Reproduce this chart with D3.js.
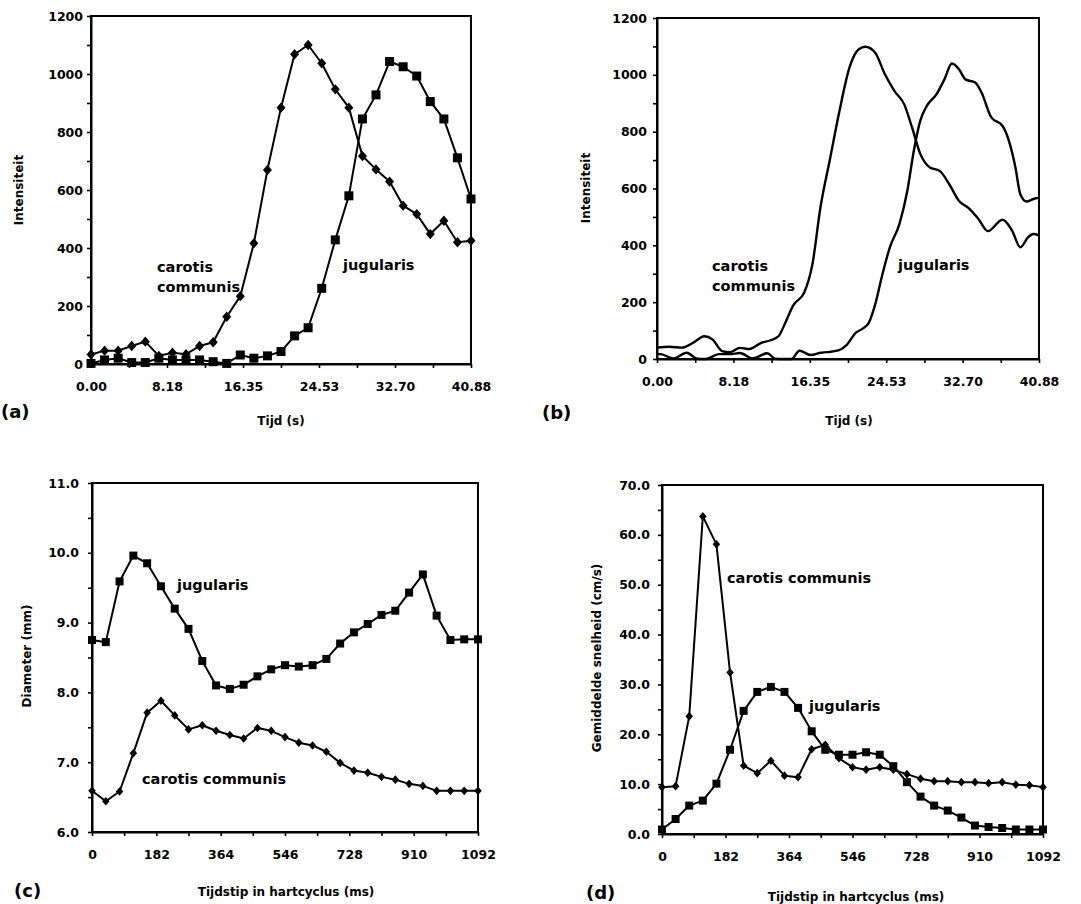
<!DOCTYPE html>
<html>
<head>
<meta charset="utf-8">
<script src="https://cdn.jsdelivr.net/npm/d3@7"></script>
<style>
  html, body { margin: 0; padding: 0; background: #fff; }
  svg { display: block; }
  text { font-family: "DejaVu Sans", sans-serif; font-weight: bold; fill: #000; }
</style>
</head>
<body>
<svg id="chart" width="1081" height="904"></svg>
<script>
// ---------- (a) intensity over time, sampled ----------
const timeA = [0, 1.46, 2.92, 4.38, 5.84, 7.30, 8.76, 10.22, 11.68, 13.14, 14.60, 16.06, 17.52,
  18.98, 20.44, 21.90, 23.36, 24.82, 26.28, 27.74, 29.20, 30.66, 32.12, 33.58, 35.04, 36.50,
  37.96, 39.42, 40.88];
const carotisA = [33, 46, 46, 62, 77, 28, 39, 34, 62, 75, 163, 234, 416, 669, 884, 1068, 1100,
  1037, 947, 884, 717, 671, 629, 546, 517, 448, 494, 420, 425];
const jugularisA = [2, 14, 20, 5, 5, 20, 14, 14, 14, 8, 2, 31, 20, 28, 43, 97, 125, 261, 428,
  580, 845, 928, 1043, 1025, 993, 905, 845, 711, 569];

// ---------- (b) intensity over time, smoothed trace ----------
const timeBCarotis = [0, 1.28, 2.66, 3.86, 5.07, 5.93, 6.97, 7.83, 8.87, 9.9, 11.1, 12.14, 13.0,
  13.7, 14.56, 15.77, 16.63, 17.49, 18.52, 19.56, 20.6, 21.6, 22.3, 23.35, 24.39, 25.42, 26.46,
  27.3, 28.2, 29.2, 30.25, 31.28, 32.3, 33.35, 34.4, 35.4, 36.98, 38.0, 38.88, 39.7, 40.26, 40.88];
const carotisB = [40, 43, 40, 57, 80, 69, 28, 24, 39, 35, 56, 66, 80, 125, 188, 235, 333, 533,
  705, 878, 1026, 1090, 1099, 1078, 1002, 943, 896, 814, 720, 674, 662, 615, 557, 531, 493, 450,
  490, 452, 393, 428, 440, 435];
const timeBJugularis = [0, 0.41, 1.79, 3.17, 4.3, 5.2, 6.62, 7.8, 8.87, 10.24, 11.8, 12.66, 13.5,
  14.39, 15.25, 16.46, 17.5, 18.2, 19.4, 20.25, 21.29, 21.97, 22.66, 23.35, 24.04, 24.91, 25.93,
  26.79, 27.48, 28.17, 28.86, 29.9, 30.76, 31.56, 32.32, 33.01, 34.05, 34.74, 35.78, 36.98,
  37.67, 38.36, 38.88, 39.57, 40.26, 40.88];
const jugularisB = [18, 17, 2, 22, 1, 0, 17, 17, 21, 2, 20, 1, 0, 0, 29, 14, 22, 24, 30, 48, 93,
  106, 127, 192, 287, 392, 474, 592, 732, 838, 890, 931, 984, 1040, 1020, 984, 973, 937, 850,
  820, 767, 674, 580, 554, 563, 568];

// ---------- (c) diameter and (d) mean velocity over one heart cycle ----------
const timeCD = [0, 39, 78, 117, 156, 195, 234, 273, 312, 351, 390, 429, 468, 507, 546, 585, 624,
  663, 702, 741, 780, 819, 858, 897, 936, 975, 1014, 1053, 1092];
const jugularisC = [8.75, 8.72, 9.59, 9.96, 9.85, 9.52, 9.20, 8.91, 8.45, 8.10, 8.05, 8.11, 8.23,
  8.33, 8.39, 8.37, 8.39, 8.48, 8.70, 8.86, 8.98, 9.11, 9.17, 9.43, 9.69, 9.10, 8.75, 8.76, 8.76];
const carotisC = [6.59, 6.44, 6.58, 7.13, 7.71, 7.88, 7.67, 7.47, 7.53, 7.45, 7.39, 7.34, 7.49,
  7.45, 7.36, 7.28, 7.24, 7.15, 6.99, 6.88, 6.85, 6.79, 6.75, 6.69, 6.66, 6.59, 6.59, 6.59, 6.59];
const carotisD = [9.4, 9.6, 23.6, 63.7, 58.1, 32.4, 13.7, 12.2, 14.7, 11.7, 11.4, 17.0, 17.9,
  15.2, 13.4, 12.9, 13.4, 12.9, 12.0, 11.1, 10.6, 10.6, 10.4, 10.4, 10.2, 10.4, 9.9, 9.8, 9.4];
const jugularisD = [0.9, 3.0, 5.7, 6.7, 10.1, 16.9, 24.7, 28.5, 29.5, 28.5, 25.3, 20.6, 16.9,
  15.9, 15.9, 16.4, 15.9, 13.6, 10.4, 7.5, 5.7, 4.7, 3.3, 1.7, 1.4, 1.2, 0.9, 0.9, 0.9];

// ---------- axis ticks ----------
const xTicksAB = [0, 4.088, 8.176, 12.264, 16.352, 20.44, 24.528, 28.616, 32.704, 36.792, 40.88];
const xLabelsAB = ["0.00", "", "8.18", "", "16.35", "", "24.53", "", "32.70", "", "40.88"];
const yTicksAB = [0, 100, 200, 300, 400, 500, 600, 700, 800, 900, 1000, 1100, 1200];
const yLabelsAB = ["0", "", "200", "", "400", "", "600", "", "800", "", "1000", "", "1200"];
const xTicksCD = [0, 91, 182, 273, 364, 455, 546, 637, 728, 819, 910, 1001, 1092];
const xLabelsCD = ["0", "", "182", "", "364", "", "546", "", "728", "", "910", "", "1092"];
const yTicksC = [6.0, 6.5, 7.0, 7.5, 8.0, 8.5, 9.0, 9.5, 10.0, 10.5, 11.0];
const yLabelsC = ["6.0", "", "7.0", "", "8.0", "", "9.0", "", "10.0", "", "11.0"];
const yTicksD = [0, 5, 10, 15, 20, 25, 30, 35, 40, 45, 50, 55, 60, 65, 70];
const yLabelsD = ["0.0", "", "10.0", "", "20.0", "", "30.0", "", "40.0", "", "50.0", "", "60.0", "", "70.0"];

const svg = d3.select("#chart");

// Filled diamond marker (rhombus slightly taller than wide)
const diamondShape = {
  draw(ctx, size) {
    const r = Math.sqrt(size) / 2;
    ctx.moveTo(0, -r * 1.15);
    ctx.lineTo(r, 0);
    ctx.lineTo(0, r * 1.15);
    ctx.lineTo(-r, 0);
    ctx.closePath();
  }
};

function drawPanel(cfg) {
  const g = svg.append("g");
  const x = d3.scaleLinear().domain(cfg.xDomain).range([cfg.left, cfg.right]);
  const y = d3.scaleLinear().domain(cfg.yDomain).range([cfg.bottom, cfg.top]);

  // frame
  g.append("rect")
    .attr("x", cfg.left).attr("y", cfg.top)
    .attr("width", cfg.right - cfg.left).attr("height", cfg.bottom - cfg.top)
    .attr("fill", "none").attr("stroke", "#000").attr("stroke-width", 2);

  // x axis
  const xAxis = d3.axisBottom(x)
    .tickValues(cfg.xTicks)
    .tickFormat((d, i) => cfg.xLabels[i])
    .tickSize(4).tickPadding(14).tickSizeOuter(0);
  const gx = g.append("g").attr("transform", `translate(0,${cfg.bottom})`).call(xAxis);
  gx.select(".domain").attr("stroke-width", 2);
  gx.selectAll(".tick line").attr("stroke-width", 1.6);
  gx.selectAll("text").attr("font-size", 12.5).attr("font-family", "DejaVu Sans").attr("font-weight", "bold");

  // y axis
  const yAxis = d3.axisLeft(y)
    .tickValues(cfg.yTicks)
    .tickFormat((d, i) => cfg.yLabels[i])
    .tickSize(4).tickPadding(cfg.yPad).tickSizeOuter(0);
  const gy = g.append("g").attr("transform", `translate(${cfg.left},0)`).call(yAxis);
  gy.select(".domain").attr("stroke-width", 2);
  gy.selectAll(".tick line").attr("stroke-width", 1.6);
  gy.selectAll("text").attr("font-size", 12.5).attr("font-family", "DejaVu Sans").attr("font-weight", "bold");

  // series
  cfg.series.forEach(s => {
    const pts = s.t.map((t, i) => [t, s.v[i]]);
    const line = d3.line()
      .x(d => x(d[0])).y(d => y(d[1]))
      .curve(s.smooth ? d3.curveMonotoneX : d3.curveLinear);
    g.append("path").datum(pts)
      .attr("d", line)
      .attr("fill", "none").attr("stroke", "#000")
      .attr("stroke-width", s.smooth ? 2.4 : 2)
      .attr("stroke-linejoin", "round");
    if (s.marker) {
      const sym = d3.symbol()
        .type(s.marker === "square" ? d3.symbolSquare : diamondShape)
        .size(s.size * s.size);
      g.selectAll(null).data(pts).enter().append("path")
        .attr("d", sym)
        .attr("transform", d => `translate(${x(d[0])},${y(d[1])})`)
        .attr("fill", "#000");
    }
  });

  // series names
  cfg.notes.forEach(n => {
    const t = g.append("text").attr("x", n.x).attr("y", n.y).attr("font-size", 14.5);
    n.lines.forEach((ln, i) => {
      t.append("tspan").attr("x", n.x).attr("dy", i === 0 ? 0 : 20).text(ln);
    });
  });

  // axis titles
  g.append("text")
    .attr("x", cfg.xTitlePos[0]).attr("y", cfg.xTitlePos[1])
    .attr("text-anchor", "middle").attr("font-size", 12)
    .text(cfg.xTitle);
  g.append("text")
    .attr("transform", `translate(${cfg.yTitlePos[0]},${cfg.yTitlePos[1]}) rotate(-90)`)
    .attr("text-anchor", "middle").attr("font-size", 12)
    .text(cfg.yTitle);

  // panel letter
  g.append("text")
    .attr("x", cfg.letterPos[0]).attr("y", cfg.letterPos[1])
    .attr("font-size", 18)
    .text(cfg.letter);
}

drawPanel({
  left: 91, right: 471, top: 16, bottom: 364,
  xDomain: [0, 40.88], yDomain: [0, 1200],
  xTicks: xTicksAB, xLabels: xLabelsAB, yTicks: yTicksAB, yLabels: yLabelsAB, yPad: 4,
  series: [
    { t: timeA, v: carotisA, marker: "diamond", size: 9 },
    { t: timeA, v: jugularisA, marker: "square", size: 9 }
  ],
  notes: [
    { x: 157, y: 272, lines: ["carotis", "communis"] },
    { x: 343, y: 270, lines: ["jugularis"] }
  ],
  xTitle: "Tijd (s)", xTitlePos: [281, 425],
  yTitle: "Intensiteit", yTitlePos: [23, 190],
  letter: "(a)", letterPos: [1, 418]
});

drawPanel({
  left: 657, right: 1039, top: 18, bottom: 359,
  xDomain: [0, 40.88], yDomain: [0, 1200],
  xTicks: xTicksAB, xLabels: xLabelsAB, yTicks: yTicksAB, yLabels: yLabelsAB, yPad: 6,
  series: [
    { t: timeBCarotis, v: carotisB, smooth: true },
    { t: timeBJugularis, v: jugularisB, smooth: true }
  ],
  notes: [
    { x: 712, y: 271, lines: ["carotis", "communis"] },
    { x: 898, y: 270, lines: ["jugularis"] }
  ],
  xTitle: "Tijd (s)", xTitlePos: [849, 425],
  yTitle: "Intensiteit", yTitlePos: [590, 188],
  letter: "(b)", letterPos: [542, 419]
});

drawPanel({
  left: 92, right: 478, top: 483, bottom: 832,
  xDomain: [0, 1092], yDomain: [6, 11],
  xTicks: xTicksCD, xLabels: xLabelsCD, yTicks: yTicksC, yLabels: yLabelsC, yPad: 9,
  series: [
    { t: timeCD, v: jugularisC, marker: "square", size: 8 },
    { t: timeCD, v: carotisC, marker: "diamond", size: 7.5 }
  ],
  notes: [
    { x: 177, y: 590, lines: ["jugularis"] },
    { x: 142, y: 784, lines: ["carotis communis"] }
  ],
  xTitle: "Tijdstip in hartcyclus (ms)", xTitlePos: [286, 896],
  yTitle: "Diameter (mm)", yTitlePos: [31, 656],
  letter: "(c)", letterPos: [14, 897]
});

drawPanel({
  left: 662, right: 1043, top: 485, bottom: 834,
  xDomain: [0, 1092], yDomain: [0, 70],
  xTicks: xTicksCD, xLabels: xLabelsCD, yTicks: yTicksD, yLabels: yLabelsD, yPad: 8,
  series: [
    { t: timeCD, v: carotisD, marker: "diamond", size: 7.5 },
    { t: timeCD, v: jugularisD, marker: "square", size: 8 }
  ],
  notes: [
    { x: 727, y: 583, lines: ["carotis communis"] },
    { x: 809, y: 711, lines: ["jugularis"] }
  ],
  xTitle: "Tijdstip in hartcyclus (ms)", xTitlePos: [856, 901],
  yTitle: "Gemiddelde snelheid (cm/s)", yTitlePos: [601, 658],
  letter: "(d)", letterPos: [586, 899]
});
</script>
</body>
</html>
